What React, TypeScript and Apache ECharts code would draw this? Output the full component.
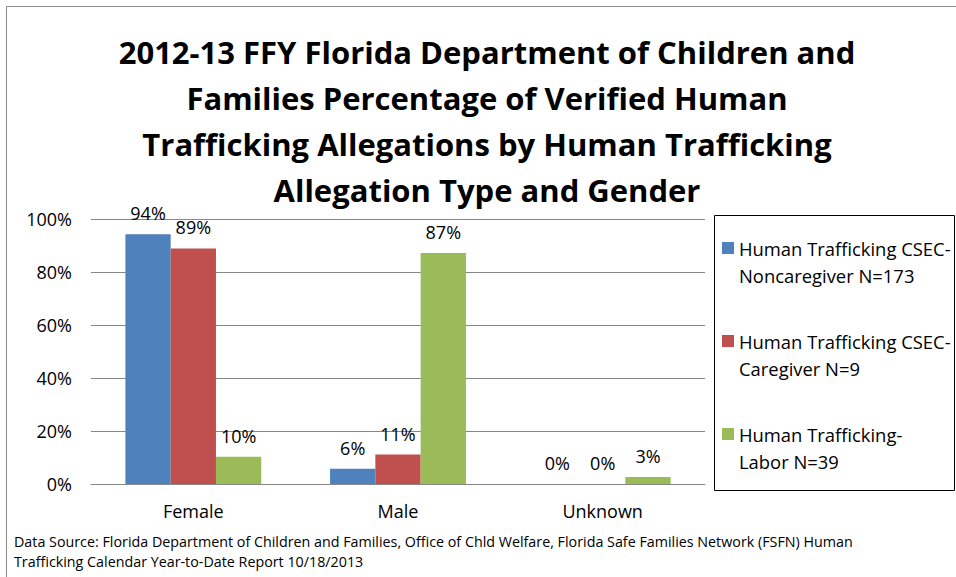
import React, { useEffect, useRef } from "react";
import * as echarts from "echarts";

const categories = ["Female", "Male", "Unknown"];
const seriesNames = [
  "Human Trafficking CSEC-\nNoncaregiver N=173",
  "Human Trafficking CSEC-\nCaregiver N=9",
  "Human Trafficking-\nLabor N=39",
];
const noncaregiver = [94.2, 5.8, 0];
const caregiver = [88.9, 11.1, 0];
const labor = [10.3, 87.2, 2.6];
const yTicks = [0, 20, 40, 60, 80, 100];
const colors = ["#4F81BD", "#C0504D", "#9BBB59"];
const titleText =
  "2012-13 FFY Florida Department of Children and\nFamilies Percentage of Verified Human\nTrafficking Allegations by Human Trafficking\nAllegation Type and Gender";
const sourceText =
  "Data Source: Florida Department of Children and Families, Office of Chld Welfare, Florida Safe Families Network (FSFN) Human\nTrafficking Calendar Year-to-Date Report 10/18/2013";

const FONT = "'Open Sans', 'Noto Sans', sans-serif";

export default function App() {
  const ref = useRef<HTMLDivElement>(null);
  useEffect(() => {
    if (!ref.current) return;
    const chart = echarts.init(ref.current, undefined, { renderer: "svg" });
    const data = [noncaregiver, caregiver, labor];
    const legendCenters = [248, 341, 434];
    const legendGraphics: any[] = [];
    seriesNames.forEach((n, i) => {
      legendGraphics.push({
        type: "rect",
        shape: { x: 722, y: legendCenters[i] - 6, width: 12, height: 12 },
        style: { fill: colors[i] },
      });
      legendGraphics.push({
        type: "text",
        x: 739,
        y: legendCenters[i] - 13.5,
        style: {
          text: n,
          font: `18.4px ${FONT}`,
          fill: "#000",
          lineHeight: 27,
          verticalAlign: "top",
        },
      });
    });
    chart.setOption({
      animation: false,
      backgroundColor: "#fff",
      textStyle: { fontFamily: FONT },
      title: {
        text: titleText,
        left: 487,
        textAlign: "center",
        top: 29,
        padding: 0,
        textStyle: {
          fontFamily: FONT,
          fontWeight: "bold",
          fontSize: 31,
          lineHeight: 46,
          color: "#000",
        },
      },
      grid: { left: 91, right: 251, top: 219, bottom: 93 },
      xAxis: {
        type: "category",
        data: categories,
        axisLine: { lineStyle: { color: "#878787", width: 1 } },
        axisTick: { show: false },
        axisLabel: { color: "#000", fontSize: 18, margin: 18, fontFamily: FONT },
      },
      yAxis: {
        type: "value",
        min: 0,
        max: 100,
        interval: 20,
        axisLine: { show: false },
        axisTick: { show: false },
        splitLine: { lineStyle: { color: "#878787", width: 1 } },
        axisLabel: {
          color: "#000",
          fontSize: 18,
          margin: 19,
          fontFamily: FONT,
          formatter: (v: number) => (yTicks.includes(v) ? `${v}%` : ""),
        },
      },
      series: data.map((d, i) => ({
        type: "bar",
        name: seriesNames[i],
        data: d,
        barGap: "0%",
        barCategoryGap: "33.6%",
        itemStyle: { color: colors[i] },
        label: {
          show: true,
          position: "top",
          distance: 12,
          color: "#000",
          fontSize: 18,
          fontFamily: FONT,
          formatter: (p: any) => `${Math.round(p.value)}%`,
        },
      })),
      graphic: [
        {
          type: "rect",
          shape: { x: 6.5, y: 6.5, width: 1000, height: 1000 },
          style: { fill: "none", stroke: "#8a8a8a", lineWidth: 1 },
          silent: true,
        },
        {
          type: "rect",
          shape: { x: 714.5, y: 215.5, width: 240, height: 275 },
          style: { fill: "#fff", stroke: "#000", lineWidth: 1 },
        },
        ...legendGraphics,
        {
          type: "text",
          x: 14,
          y: 531,
          style: {
            text: sourceText,
            font: `14.3px ${FONT}`,
            fill: "#000",
            lineHeight: 20,
            verticalAlign: "top",
          },
        },
      ],
    });
    return () => chart.dispose();
  }, []);
  return (
    <div
      ref={ref}
      style={{ position: "fixed", left: 0, top: 0, width: 956, height: 577 }}
    />
  );
}
